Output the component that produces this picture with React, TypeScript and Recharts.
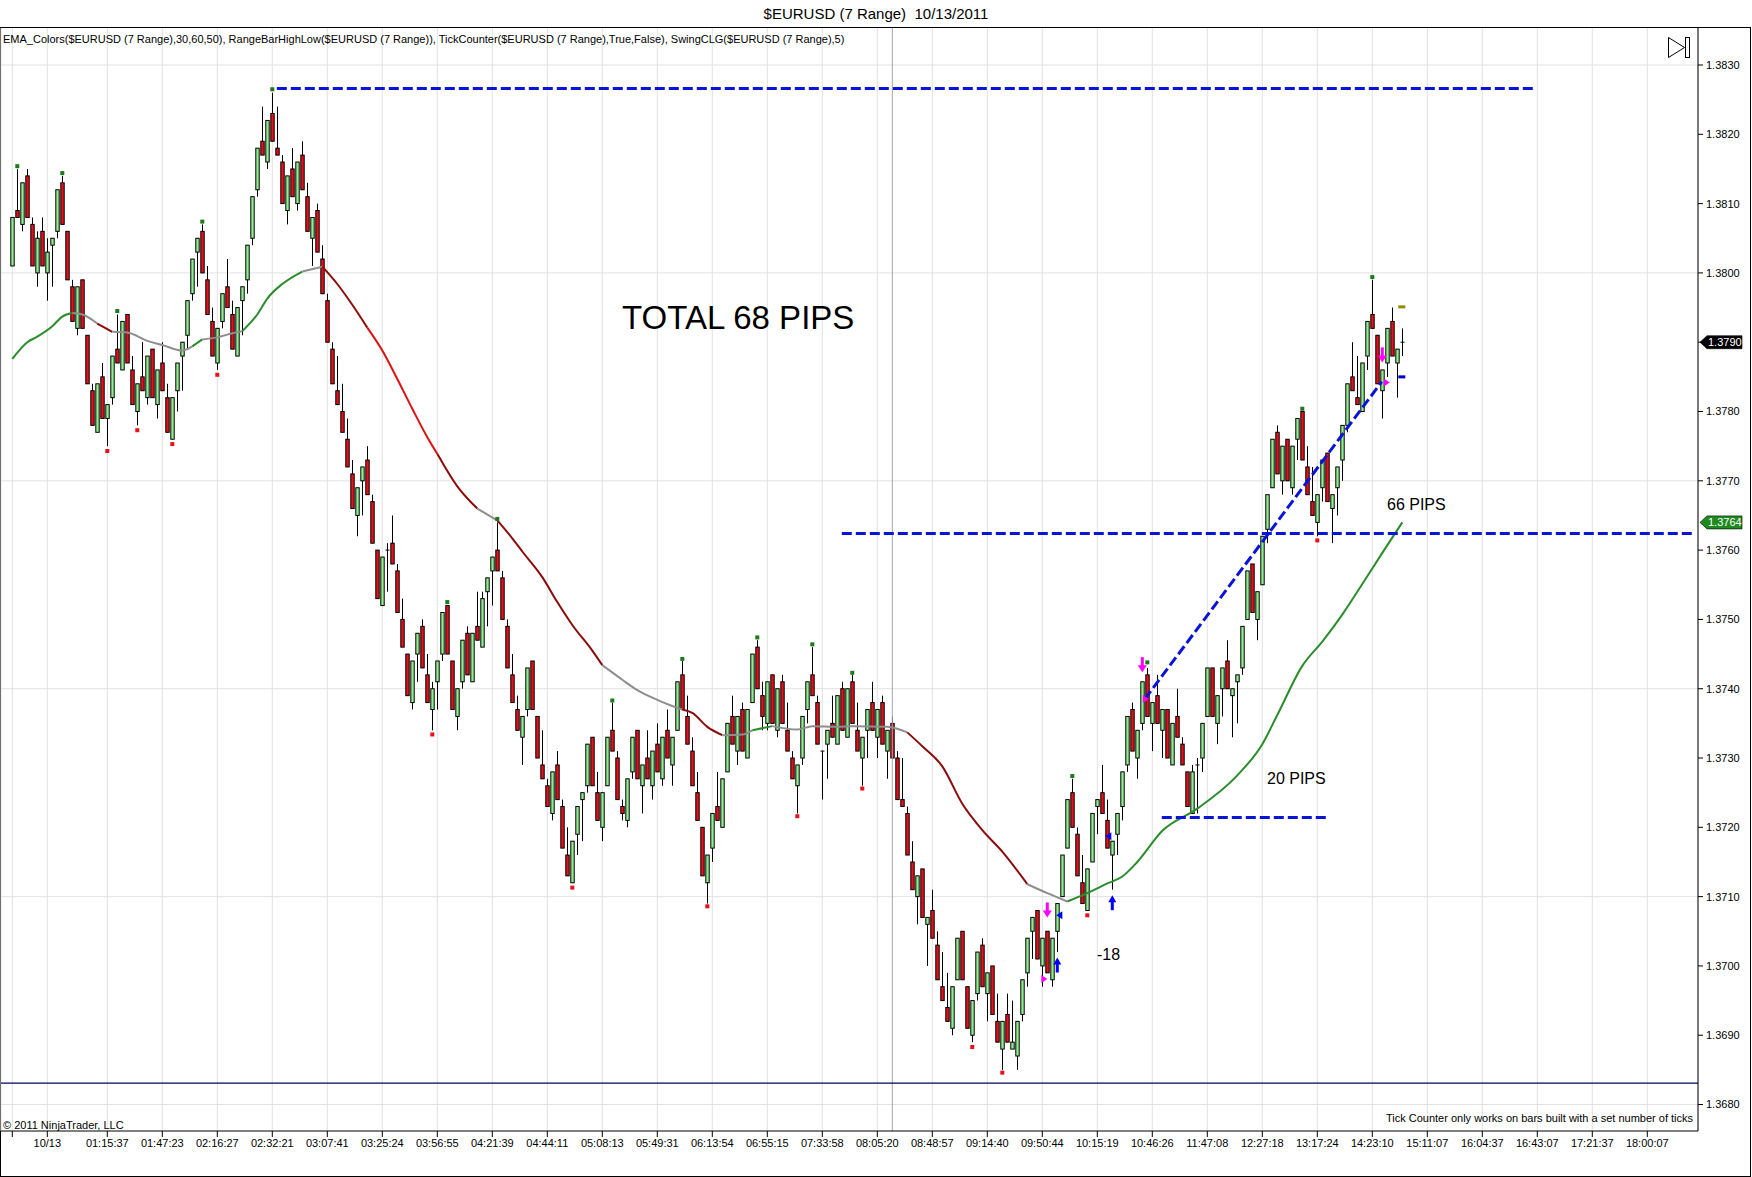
import React from "react";
import {
  ComposedChart,
  Bar,
  Line,
  Scatter,
  XAxis,
  YAxis,
  CartesianGrid,
  ReferenceLine,
  ReferenceDot,
} from "recharts";

// prices are kept in pips above 1.3600
const BASE = 1.36;
const px = (pips: number) => BASE + pips / 10000;

const OPEN = [
  201, 209, 207, 214, 207, 200, 206, 200, 204, 206,
  213, 206, 198, 192, 199, 191, 183, 177, 185, 179,
  182, 189, 186, 194, 186, 180, 185, 182, 189, 181,
  187, 182, 176, 183, 188, 191, 197, 203, 206, 199,
  193, 187, 193, 198, 194, 188, 196, 199, 205, 212,
  219, 216, 223, 218, 216, 209, 215, 210, 217, 211,
  205, 209, 202, 196, 189, 183, 180, 176, 171, 165,
  170, 173, 167, 160, 152, 160, 161, 157, 150, 145,
  138, 145, 149, 142, 137, 141, 145, 152, 144, 136,
  141, 148, 141, 149, 146, 154, 157, 160, 156, 149,
  142, 137, 133, 137, 144, 136, 129, 126, 122, 129,
  123, 116, 112, 119, 124, 126, 133, 125, 120, 126,
  134, 130, 123, 121, 128, 134, 126, 130, 126, 132,
  127, 134, 129, 134, 142, 136, 131, 125, 120, 112,
  117, 123, 120, 128, 136, 131, 137, 130, 138, 146,
  139, 135, 142, 134, 141, 134, 130, 126, 130, 137,
  142, 138, 131, 132, 135, 132, 140, 133, 141, 134,
  130, 134, 138, 133, 138, 131, 135, 130, 124, 122,
  115, 110, 114, 106, 108, 103, 97, 94, 91, 98,
  105, 97, 90, 96, 103, 96, 100, 92, 88, 93,
  88, 87, 93, 99, 105, 108, 100, 105, 98, 105,
  110, 117, 125, 119, 112, 108, 115, 123, 125, 121,
  116, 119, 123, 129, 137, 130, 135, 142, 135, 139,
  134, 137, 129, 136, 132, 128, 122, 129, 130, 136,
  143, 135, 140, 144, 139, 141, 143, 150, 158, 150,
  155, 163, 169, 177, 170, 176, 169, 176, 180, 172,
  167, 164, 169, 174, 166, 169, 173, 178, 185, 182,
  180, 188, 194, 191, 183, 187, 193, 187, 190,
];
const HIGH = [
  208, 215, 213, 215, 208, 206, 208, 205, 205, 212,
  214, 206, 199, 198, 199, 191, 184, 184, 187, 181,
  188, 194, 193, 194, 188, 184, 190, 188, 189, 186,
  190, 184, 182, 187, 190, 196, 202, 205, 207, 201,
  195, 192, 197, 202, 196, 195, 198, 204, 211, 218,
  224, 222, 226, 224, 217, 214, 218, 216, 219, 213,
  208, 210, 204, 197, 190, 188, 184, 179, 173, 169,
  172, 175, 168, 160, 159, 161, 165, 158, 153, 145,
  144, 148, 150, 145, 141, 144, 151, 152, 144, 140,
  147, 149, 148, 154, 154, 156, 159, 164, 157, 150,
  145, 139, 136, 143, 144, 136, 134, 127, 128, 131,
  124, 120, 118, 123, 125, 132, 133, 128, 125, 133,
  138, 131, 124, 127, 133, 134, 129, 134, 131, 135,
  133, 137, 133, 141, 144, 139, 133, 128, 120, 116,
  122, 128, 127, 135, 139, 136, 138, 137, 145, 147,
  141, 141, 142, 140, 142, 138, 131, 129, 136, 141,
  146, 139, 131, 134, 139, 139, 141, 140, 142, 138,
  133, 137, 141, 137, 139, 134, 136, 131, 130, 123,
  118, 113, 114, 107, 111, 105, 102, 99, 97, 104,
  105, 97, 95, 102, 104, 99, 100, 96, 92, 96,
  95, 92, 98, 104, 107, 108, 104, 105, 104, 109,
  116, 124, 127, 120, 116, 114, 122, 124, 129, 124,
  118, 122, 128, 136, 138, 134, 141, 143, 138, 142,
  137, 137, 135, 140, 133, 128, 129, 130, 135, 143,
  143, 139, 143, 147, 140, 142, 149, 157, 158, 154,
  162, 168, 176, 178, 175, 176, 175, 179, 180, 175,
  172, 168, 173, 174, 168, 172, 178, 184, 190, 188,
  187, 193, 199, 191, 186, 192, 195, 189, 192,
];
const LOW = [
  201, 208, 206, 208, 201, 198, 201, 196, 198, 205,
  207, 199, 193, 191, 192, 184, 178, 177, 179, 175,
  181, 187, 186, 187, 181, 178, 183, 181, 182, 179,
  183, 177, 176, 180, 183, 189, 196, 198, 200, 194,
  188, 186, 192, 195, 189, 188, 191, 197, 204, 211,
  217, 215, 219, 217, 210, 207, 211, 209, 212, 206,
  201, 203, 197, 190, 184, 181, 177, 172, 166, 162,
  165, 168, 161, 153, 152, 154, 158, 151, 146, 139,
  137, 141, 143, 138, 134, 137, 144, 145, 137, 134,
  140, 142, 141, 147, 146, 149, 152, 157, 150, 143,
  138, 134, 129, 136, 137, 130, 127, 123, 121, 124,
  117, 113, 112, 116, 118, 125, 126, 121, 118, 126,
  131, 124, 121, 120, 127, 127, 122, 127, 124, 128,
  126, 130, 126, 134, 137, 132, 126, 121, 113, 109,
  115, 121, 120, 128, 132, 129, 131, 130, 138, 140,
  134, 134, 135, 133, 135, 131, 127, 122, 129, 135,
  139, 132, 124, 127, 133, 132, 134, 133, 135, 131,
  126, 130, 134, 130, 132, 127, 130, 124, 123, 116,
  111, 106, 107, 100, 104, 98, 95, 92, 90, 98,
  98, 91, 89, 95, 97, 92, 93, 89, 85, 89,
  88, 85, 92, 97, 101, 101, 97, 99, 97, 102,
  110, 117, 120, 113, 109, 108, 115, 119, 122, 117,
  111, 116, 121, 128, 131, 127, 134, 136, 131, 135,
  130, 130, 129, 133, 129, 123, 122, 122, 128, 136,
  136, 132, 136, 140, 133, 135, 142, 150, 151, 147,
  155, 161, 169, 171, 168, 170, 168, 173, 173, 168,
  165, 162, 167, 167, 161, 165, 170, 177, 183, 181,
  180, 186, 192, 184, 179, 185, 188, 182, 188,
];
const CLOSE = [
  208, 208, 213, 208, 201, 205, 201, 203, 205, 212,
  207, 199, 193, 198, 192, 184, 178, 184, 179, 181,
  188, 187, 193, 187, 181, 184, 183, 188, 182, 186,
  183, 177, 182, 187, 190, 196, 202, 205, 200, 194,
  188, 192, 197, 195, 189, 195, 198, 204, 211, 218,
  217, 222, 219, 217, 210, 214, 211, 216, 212, 206,
  208, 203, 197, 190, 184, 181, 177, 172, 166, 169,
  172, 168, 161, 153, 159, 160, 158, 151, 146, 139,
  144, 148, 143, 138, 140, 144, 151, 145, 137, 140,
  147, 142, 148, 147, 153, 156, 159, 157, 150, 143,
  138, 134, 136, 143, 137, 130, 127, 123, 128, 124,
  117, 113, 118, 123, 125, 132, 126, 121, 125, 133,
  131, 124, 122, 127, 133, 127, 129, 127, 131, 128,
  133, 130, 133, 141, 137, 132, 126, 121, 113, 116,
  122, 121, 127, 135, 132, 136, 131, 137, 145, 140,
  136, 141, 135, 140, 135, 131, 127, 129, 136, 141,
  139, 132, 131, 134, 133, 139, 134, 140, 135, 131,
  133, 137, 134, 137, 132, 134, 130, 124, 123, 116,
  111, 113, 107, 107, 104, 98, 95, 92, 97, 104,
  98, 91, 95, 102, 97, 99, 93, 89, 92, 89,
  89, 92, 98, 104, 107, 101, 104, 99, 104, 109,
  116, 124, 120, 113, 109, 114, 122, 124, 122, 117,
  118, 122, 128, 136, 131, 134, 141, 136, 138, 135,
  137, 130, 135, 133, 129, 123, 128, 129, 135, 143,
  136, 139, 143, 140, 140, 142, 149, 157, 151, 154,
  162, 168, 176, 171, 175, 170, 175, 179, 173, 168,
  165, 168, 173, 167, 168, 172, 178, 184, 183, 181,
  187, 193, 192, 184, 186, 192, 188, 189, 190,
];

// EMA(30) at sample bars
const EMA_BARS = [
  0, 3, 5, 8, 10, 12, 14, 17, 20, 23, 27, 30, 34, 36, 38, 41, 44, 46, 49, 51,
  54, 58, 62, 65, 68, 71, 74, 77, 80, 83, 85, 89, 93, 97, 100, 102, 106, 109,
  112, 116, 118, 122, 125, 129, 132, 134, 136, 139, 142, 146, 148, 152, 157,
  160, 165, 168, 175, 179, 182, 186, 190, 194, 198, 203, 207, 211, 215, 219,
  222, 225, 230, 237, 245, 250, 253, 258, 262, 266, 270, 274, 278,
];
const EMA_PIPS = [
  187.6, 190.0, 190.8, 192.3, 193.7, 194.2, 194.0, 192.7, 191.5, 191.4, 190.2,
  189.6, 188.8, 189.4, 190.4, 190.7, 191.3, 191.6, 194.0, 196.3, 198.4, 200.2,
  200.9, 198.4, 195.4, 192.1, 188.8, 184.7, 180.4, 176.3, 173.9, 169.2, 166.0,
  164.3, 161.7, 159.8, 156.1, 152.5, 149.2, 145.5, 143.4, 141.3, 139.8, 138.4,
  137.5, 137.0, 136.5, 134.5, 133.3, 133.4, 134.0, 134.6, 134.1, 134.6, 134.5,
  134.6, 134.5, 133.7, 131.7, 128.8, 123.4, 119.6, 116.5, 111.8, 110.5, 109.3,
  110.5, 111.9, 112.9, 115.0, 119.5, 122.7, 127.5, 132.0, 136.2, 143.3, 146.8,
  150.7, 155.1, 159.6, 164.0,
];
const UP = "#2b8c2b";
const FLAT = "#8e8e8e";
const DOWN = "#8b0b0b";
const DOWN_FAST = "#e01010";
const EMA_SEGMENTS: [number, number, string][] = [
  [0, 12, UP], [12, 17, FLAT], [17, 20, DOWN], [20, 36, FLAT], [36, 38, UP],
  [38, 46, FLAT], [46, 58, UP], [58, 62, FLAT], [62, 71, DOWN],
  [71, 85, DOWN_FAST], [85, 93, DOWN], [93, 97, FLAT], [97, 118, DOWN],
  [118, 134, FLAT], [134, 142, DOWN], [142, 148, FLAT], [148, 152, UP],
  [152, 179, FLAT], [179, 203, DOWN], [203, 211, FLAT], [211, 278, UP],
];

const SWING_HIGH_BARS = [1, 10, 21, 38, 52, 87, 97, 120, 134, 149, 160, 168, 212, 227, 258, 272];
const SWING_HIGH_PIPS = [215.4, 214.4, 194.5, 207.4, 226.5, 152.5, 164.5, 138.3, 144.3, 147.4, 146.4, 142.3, 127.4, 143.8, 180.4, 199.4];
const SWING_LOW_BARS = [19, 25, 32, 41, 84, 112, 139, 157, 170, 192, 198, 215, 261];
const SWING_LOW_PIPS = [174.3, 177.3, 175.3, 185.3, 133.4, 111.3, 108.6, 121.6, 125.6, 88.3, 84.6, 107.3, 161.4];

const MARK_BARS = [207, 226, 274, 209, 220, 206.2, 226.5, 274.7, 209.6, 219.4, 277.9, 277.9];
const MARK_PIPS = [108.0, 143.4, 188.1, 100.2, 109.2, 98.1, 138.5, 184.2, 107.3, 118.7, 195.1, 185.0];
const MARK_KIND = ["down", "down", "down", "up", "up", "triM", "triM", "triM", "triB", "triB", "dashO", "dashB"];

// dashed levels drawn on the chart (bar index / pips)
const LEVEL_FROM_BAR = [52.9, 165.9, 229.9, 226.5];
const LEVEL_TO_BAR = [304.1, 336.1, 262.9, 273.9];
const LEVEL_FROM_PIPS = [226.6, 162.4, 121.4, 138.5];
const LEVEL_TO_PIPS = [226.6, 162.4, 121.4, 184.3];

const TIME_TICKS = [0, 7, 19, 30, 41, 52, 63, 74, 85, 96, 107, 118, 129, 140, 151, 162, 173, 184, 195, 206, 217, 228, 239, 250, 261, 272, 283, 294, 305, 316, 327];
const TIME_LABELS = [
  "", "10/13", "01:15:37", "01:47:23", "02:16:27", "02:32:21", "03:07:41", "03:25:24",
  "03:56:55", "04:21:39", "04:44:11", "05:08:13", "05:49:31", "06:13:54", "06:55:15",
  "07:33:58", "08:05:20", "08:48:57", "09:14:40", "09:50:44", "10:15:19", "10:46:26",
  "11:47:08", "12:27:18", "13:17:24", "14:23:10", "15:11:07", "16:04:37", "16:43:07",
  "17:21:37", "18:00:07",
];
const PRICE_TICKS = [1.368, 1.369, 1.37, 1.371, 1.372, 1.373, 1.374, 1.375, 1.376, 1.377, 1.378, 1.379, 1.38, 1.381, 1.382, 1.383];
const GRID_PRICES = [1.368, 1.371, 1.374, 1.377, 1.38, 1.383];
const SESSION_BAR = 176;
const PANEL_LINE_PIPS = 83.1;
const LAST_PRICE = 1.379;
const EMA_LAST = 1.3764;

const XMIN = -2.26;
const XMAX = 337.14;
const YMIN = 1.367618;
const YMAX = 1.383534;

const FONT = '"Liberation Sans", Arial, Helvetica, sans-serif';
const GREEN_BODY = "#90ee90";
const RED_BODY = "#e8111a";

const candles = OPEN.map((o, i) => ({
  i,
  open: px(o),
  high: px(HIGH[i]),
  low: px(LOW[i]),
  close: px(CLOSE[i]),
  range: [px(LOW[i]), px(HIGH[i])],
}));

const emaPoints = EMA_BARS.map((b, k) => ({ i: b, p: px(EMA_PIPS[k]) }));
const highDots = SWING_HIGH_BARS.map((b, k) => ({ i: b, p: px(SWING_HIGH_PIPS[k]) }));
const lowDots = SWING_LOW_BARS.map((b, k) => ({ i: b, p: px(SWING_LOW_PIPS[k]) }));
const marks = MARK_BARS.map((b, k) => ({ i: b, p: px(MARK_PIPS[k]), kind: MARK_KIND[k] }));

const Candle = (props: any) => {
  const { x, y, width, height, payload } = props;
  if (!payload || x == null || y == null) return null;
  const top = Math.min(y, y + height);
  const h = Math.abs(height);
  const cx = Math.round(x + width / 2) + 0.5;
  const { open, close, high, low } = payload;
  const yOf = (v: number) => top + ((high - v) / (high - low)) * h;
  const y1 = yOf(Math.max(open, close));
  const y2 = yOf(Math.min(open, close));
  const doji = Math.abs(open - close) < 1e-9;
  return (
    <g>
      <line x1={cx} x2={cx} y1={top} y2={top + h} stroke="#000" strokeWidth={1} />
      {doji ? (
        <line x1={cx - 2} x2={cx + 2} y1={y1} y2={y1} stroke="#000" strokeWidth={1} />
      ) : (
        <rect
          x={cx - 1.7}
          y={y1}
          width={3.4}
          height={Math.max(y2 - y1, 1)}
          fill={close > open ? GREEN_BODY : RED_BODY}
          stroke="#000"
          strokeWidth={1}
        />
      )}
    </g>
  );
};

const squareDot = (color: string) => (props: any) => {
  const { cx, cy } = props;
  if (cx == null || cy == null) return null;
  return <rect x={cx - 2} y={cy - 2} width={4} height={4} fill={color} />;
};

const Marker = (props: any) => {
  const { cx, cy, payload } = props;
  if (cx == null || cy == null) return null;
  const k = payload.kind;
  if (k === "down") {
    return (
      <g fill="#ff00ff">
        <rect x={cx - 1.5} y={cy - 8} width={3} height={9} />
        <polygon points={`${cx - 4.5},${cy} ${cx + 4.5},${cy} ${cx},${cy + 7}`} />
      </g>
    );
  }
  if (k === "up") {
    return (
      <g fill="#0000ff">
        <rect x={cx - 1.5} y={cy - 1} width={3} height={9} />
        <polygon points={`${cx - 4},${cy} ${cx + 4},${cy} ${cx},${cy - 7}`} />
      </g>
    );
  }
  if (k === "triM") {
    return <polygon points={`${cx - 2},${cy - 4} ${cx - 2},${cy + 4} ${cx + 4},${cy}`} fill="#ff00ff" />;
  }
  if (k === "triB") {
    return <polygon points={`${cx + 2},${cy - 4} ${cx + 2},${cy + 4} ${cx - 4},${cy}`} fill="#0000ff" />;
  }
  if (k === "dashO") return <rect x={cx - 3.5} y={cy - 1.5} width={7} height={3} fill="#8c8c00" />;
  return <rect x={cx - 3.5} y={cy - 1.5} width={7} height={3} fill="#0000cc" />;
};

const priceTag = (color: string, text: string) => (props: any) => {
  const { cx, cy } = props;
  if (cx == null || cy == null) return null;
  return (
    <g>
      <polygon
        points={`${cx + 2},${cy} ${cx + 9},${cy - 6.5} ${cx + 44},${cy - 6.5} ${cx + 44},${cy + 6.5} ${cx + 9},${cy + 6.5}`}
        fill={color}
        stroke="#000"
        strokeWidth={0.6}
      />
      <text x={cx + 10} y={cy + 4} fill="#fff" fontSize={11} fontFamily={FONT}>
        {text}
      </text>
    </g>
  );
};

const gridRows = (props: any) => {
  const s = props?.yAxis?.scale;
  if (!s) return [];
  return GRID_PRICES.map((v) => (typeof s === "function" ? s(v) : s.map ? s.map(v) : 0));
};

export default function App() {
  const textBase: React.CSSProperties = {
    position: "absolute",
    fontFamily: FONT,
    color: "#000",
    lineHeight: 1,
    whiteSpace: "pre",
    pointerEvents: "none",
  };
  return (
    <div style={{ position: "relative", width: 1752, height: 1177, background: "#fff", fontFamily: FONT, overflow: "hidden" }}>
      <style>{"body{margin:0}"}</style>
      <div
        style={{
          position: "absolute",
          left: 0,
          top: 27,
          width: 1751,
          height: 1150,
          border: "1.5px solid #000",
          boxSizing: "border-box",
        }}
      />
      <div style={{ position: "absolute", left: 0, top: 0 }}>
        <ComposedChart
          width={1752}
          height={1177}
          data={candles}
          margin={{ top: 28, right: 0, bottom: 0, left: 1 }}
        >
          <CartesianGrid
            stroke="#e2e2e2"
            strokeWidth={1}
            horizontalCoordinatesGenerator={gridRows}
          />
          <XAxis
            type="number"
            dataKey="i"
            domain={[XMIN, XMAX]}
            allowDataOverflow
            ticks={TIME_TICKS}
            interval={0}
            tickFormatter={(v: number) => TIME_LABELS[TIME_TICKS.indexOf(v)] ?? ""}
            height={46}
            tickSize={6}
            tickMargin={2}
            axisLine={{ stroke: "#000" }}
            tickLine={{ stroke: "#000" }}
            tick={{ fontSize: 11, fill: "#000" }}
          />
          <YAxis
            type="number"
            orientation="right"
            domain={[YMIN, YMAX]}
            allowDataOverflow
            ticks={PRICE_TICKS}
            interval={0}
            tickFormatter={(v: number) => (Math.abs(v - LAST_PRICE) < 1e-9 ? "" : v.toFixed(4))}
            width={54}
            tickSize={5}
            tickMargin={3}
            axisLine={{ stroke: "#000" }}
            tickLine={{ stroke: "#000" }}
            tick={{ fontSize: 11, fill: "#000" }}
          />
          <ReferenceLine x={SESSION_BAR} stroke="#a6a6a6" strokeWidth={1} />
          <ReferenceLine y={px(PANEL_LINE_PIPS)} stroke="#000066" strokeWidth={1.3} />
          {EMA_SEGMENTS.map(([a, b, color], k) => (
            <Line
              key={`ema${k}`}
              data={emaPoints.filter((d) => d.i >= a && d.i <= b)}
              dataKey="p"
              type="monotone"
              stroke={color}
              strokeWidth={2}
              dot={false}
              activeDot={false}
              isAnimationActive={false}
            />
          ))}
          <Bar dataKey="range" barSize={5} shape={Candle} isAnimationActive={false} />
          {LEVEL_FROM_BAR.map((b, k) => (
            <ReferenceLine
              key={`lvl${k}`}
              segment={[
                { x: b, y: px(LEVEL_FROM_PIPS[k]) },
                { x: LEVEL_TO_BAR[k], y: px(LEVEL_TO_PIPS[k]) },
              ]}
              stroke="#0a14d8"
              strokeWidth={3}
              strokeDasharray="10 4"
              ifOverflow="visible"
            />
          ))}
          <Scatter data={highDots} dataKey="p" shape={squareDot("#1c7a1c")} isAnimationActive={false} />
          <Scatter data={lowDots} dataKey="p" shape={squareDot("#e8111a")} isAnimationActive={false} />
          <Scatter data={marks} dataKey="p" shape={Marker} isAnimationActive={false} />
          <ReferenceDot x={XMAX} y={LAST_PRICE} r={0} ifOverflow="visible" shape={priceTag("#000", "1.3790")} />
          <ReferenceDot x={XMAX} y={EMA_LAST} r={0} ifOverflow="visible" shape={priceTag("#1f8a1f", "1.3764")} />
        </ComposedChart>
      </div>

      <div style={{ ...textBase, left: 0, width: 1752, top: 6, textAlign: "center", fontSize: 15, paddingRight: 8 }}>
        {"$EURUSD (7 Range)  10/13/2011"}
      </div>
      <div style={{ ...textBase, left: 3, top: 34, fontSize: 11 }}>
        EMA_Colors($EURUSD (7 Range),30,60,50), RangeBarHighLow($EURUSD (7 Range)), TickCounter($EURUSD (7 Range),True,False), SwingCLG($EURUSD (7 Range),5)
      </div>
      <div style={{ ...textBase, left: 622, top: 301, fontSize: 33 }}>TOTAL 68 PIPS</div>
      <div style={{ ...textBase, left: 1387, top: 497, fontSize: 16 }}>66 PIPS</div>
      <div style={{ ...textBase, left: 1267, top: 771, fontSize: 16 }}>20 PIPS</div>
      <div style={{ ...textBase, left: 1097, top: 947, fontSize: 16 }}>-18</div>
      <div style={{ ...textBase, left: 3, top: 1120, fontSize: 11 }}>© 2011 NinjaTrader, LLC</div>
      <div style={{ ...textBase, right: 1752 - 1693, top: 1113, fontSize: 11 }}>
        Tick Counter only works on bars built with a set number of ticks
      </div>
      <svg style={{ position: "absolute", left: 1666, top: 36 }} width={26} height={24}>
        <polygon points="2.5,1.5 2.5,21.5 18.5,11.5" fill="none" stroke="#000" strokeWidth={1} />
        <rect x={19.5} y={1.5} width={4} height={20} fill="none" stroke="#000" strokeWidth={1} />
      </svg>
    </div>
  );
}
